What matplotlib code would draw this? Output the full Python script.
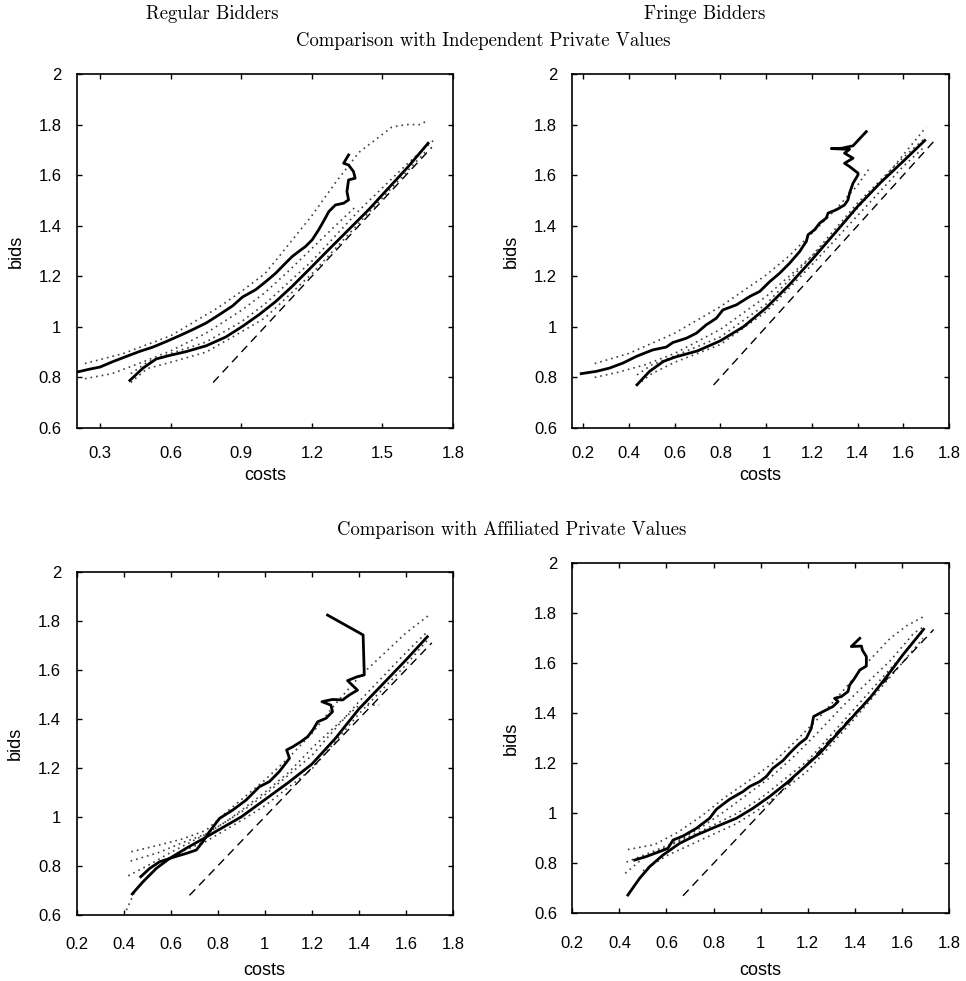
import matplotlib
matplotlib.use("Agg")
import matplotlib.pyplot as plt
import numpy as np

# ---------------- data ----------------
# Panel 1: Regular bidders, IPV comparison
p1_obs_x = [0.200,0.256,0.299,0.355,0.411,0.468,0.524,0.581,0.637,0.693,0.750,0.806,0.863,0.905,0.961,1.004,1.046,1.088,1.116,1.144,1.173,1.201,1.229,1.257,1.272,1.300,1.335,1.356,1.349,1.356,1.384,1.377,1.356,1.335,1.356]
p1_obs_y = [0.821,0.833,0.841,0.863,0.883,0.903,0.920,0.942,0.965,0.989,1.015,1.048,1.083,1.118,1.147,1.179,1.212,1.252,1.278,1.298,1.318,1.344,1.384,1.430,1.456,1.482,1.489,1.502,1.535,1.581,1.588,1.614,1.640,1.647,1.680]
p1_obs_hi_x = [0.235,0.40,0.60,0.80,0.90,1.00,1.06,1.20,1.30,1.40,1.54,1.60,1.66,1.69]
p1_obs_hi_y = [0.855,0.895,0.965,1.075,1.14,1.21,1.278,1.44,1.57,1.69,1.79,1.80,1.80,1.815]
p1_obs_lo_x = [0.235,0.35,0.45,0.60,0.75,0.90,1.00,1.10,1.20,1.30,1.38]
p1_obs_lo_y = [0.795,0.815,0.85,0.905,0.975,1.065,1.135,1.22,1.31,1.40,1.47]
p1_th_x = [0.426,0.482,0.538,0.595,0.665,0.750,0.834,0.905,0.975,1.046,1.116,1.187,1.271,1.356,1.441,1.525,1.610,1.694]
p1_th_y = [0.788,0.837,0.873,0.887,0.902,0.925,0.960,1.002,1.048,1.100,1.160,1.226,1.305,1.384,1.463,1.548,1.634,1.726]
p1_th_hi_x = [0.43,0.50,0.60,0.75,0.90,1.00,1.20,1.40,1.60,1.72]
p1_th_hi_y = [0.815,0.86,0.895,0.94,1.02,1.09,1.26,1.46,1.64,1.74]
p1_th_lo_x = [0.43,0.50,0.60,0.75,0.90,1.00,1.20,1.40,1.60,1.69]
p1_th_lo_y = [0.78,0.835,0.86,0.90,0.98,1.035,1.21,1.41,1.61,1.70]
p1_diag = [0.78, 1.71]

# Panel 2: Fringe bidders, IPV comparison
p2_obs_x = [0.191,0.257,0.315,0.374,0.432,0.476,0.505,0.563,0.592,0.651,0.695,0.738,0.782,0.811,0.870,0.928,0.972,1.016,1.059,1.103,1.147,1.161,1.176,1.183,1.212,1.234,1.263,1.271,1.307,1.343,1.358,1.365,1.380,1.402,1.402,1.365,1.343,1.380,1.343,1.365,1.285,1.329,1.380,1.438]
p2_obs_y = [0.815,0.824,0.837,0.857,0.883,0.899,0.909,0.920,0.938,0.955,0.975,1.008,1.034,1.067,1.087,1.120,1.140,1.179,1.212,1.252,1.298,1.318,1.338,1.364,1.384,1.410,1.430,1.450,1.463,1.482,1.502,1.529,1.568,1.601,1.608,1.634,1.647,1.667,1.687,1.702,1.705,1.706,1.716,1.772]
p2_obs_hi_x = [0.25,0.40,0.60,0.80,1.00,1.10,1.20,1.30,1.40,1.45]
p2_obs_hi_y = [0.855,0.895,0.975,1.08,1.205,1.28,1.37,1.46,1.56,1.625]
p2_obs_lo_x = [0.25,0.35,0.47,0.60,0.80,1.00,1.20,1.30,1.40,1.50,1.60,1.70]
p2_obs_lo_y = [0.80,0.82,0.85,0.895,0.99,1.12,1.28,1.37,1.47,1.57,1.68,1.79]
p2_th_x = [0.435,0.49,0.55,0.60,0.70,0.80,0.90,1.00,1.10,1.20,1.30,1.40,1.50,1.60,1.694]
p2_th_y = [0.771,0.824,0.863,0.88,0.905,0.945,1.00,1.075,1.165,1.265,1.37,1.476,1.57,1.655,1.737]
p2_th_hi_x = [0.435,0.50,0.60,0.80,1.00,1.20,1.40,1.60,1.70]
p2_th_hi_y = [0.81,0.85,0.885,0.96,1.09,1.28,1.49,1.67,1.75]
p2_th_lo_x = [0.435,0.50,0.60,0.80,1.00,1.20,1.40,1.60,1.69]
p2_th_lo_y = [0.77,0.815,0.86,0.93,1.06,1.245,1.44,1.635,1.71]
p2_diag = [0.77, 1.735]

# Panel 3: Regular bidders, APV comparison
p3_obs_x = [0.473,0.511,0.553,0.610,0.666,0.709,0.737,0.765,0.808,0.864,0.921,0.977,1.020,1.062,1.105,1.093,1.119,1.154,1.182,1.204,1.225,1.260,1.288,1.281,1.243,1.288,1.331,1.359,1.394,1.352,1.394,1.423,1.418,1.267]
p3_obs_y = [0.756,0.790,0.817,0.835,0.851,0.865,0.899,0.940,0.994,1.028,1.069,1.123,1.144,1.185,1.239,1.273,1.286,1.307,1.327,1.354,1.388,1.402,1.429,1.456,1.470,1.479,1.477,1.497,1.517,1.556,1.572,1.579,1.742,1.823]
p3_obs_hi_x = [0.433,0.55,0.65,0.75,0.85,1.00,1.10,1.20,1.30,1.40,1.50,1.60,1.698]
p3_obs_hi_y = [0.858,0.885,0.91,0.945,1.03,1.15,1.24,1.34,1.46,1.57,1.66,1.75,1.823]
p3_obs_lo_x = [0.43,0.55,0.65,0.75,0.85,1.00,1.10,1.20,1.30,1.40,1.486]
p3_obs_lo_y = [0.82,0.855,0.895,0.93,0.99,1.10,1.18,1.28,1.37,1.455,1.456]
p3_th_x = [0.437,0.483,0.539,0.596,0.666,0.737,0.80,0.90,1.00,1.10,1.20,1.30,1.40,1.50,1.60,1.691]
p3_th_y = [0.686,0.736,0.790,0.831,0.872,0.91,0.945,1.00,1.07,1.14,1.215,1.32,1.44,1.54,1.64,1.735]
p3_th_hi_x = [0.42,0.50,0.60,0.75,0.90,1.00,1.20,1.40,1.60,1.691]
p3_th_hi_y = [0.76,0.80,0.855,0.93,1.02,1.09,1.25,1.47,1.67,1.755]
p3_th_lo_x = [0.412,0.45,0.55,0.65,0.75,0.90,1.00,1.20,1.40,1.60,1.69]
p3_th_lo_y = [0.62,0.70,0.80,0.86,0.90,0.985,1.045,1.195,1.42,1.62,1.72]
p3_diag = [0.68, 1.71]

# Panel 4: Fringe bidders, APV comparison
p4_obs_x = [0.465,0.514,0.571,0.606,0.628,0.670,0.727,0.783,0.812,0.868,0.925,0.953,0.996,1.024,1.052,1.095,1.123,1.144,1.166,1.194,1.215,1.225,1.265,1.307,1.329,1.314,1.343,1.371,1.378,1.399,1.421,1.449,1.449,1.432,1.428,1.385,1.421]
p4_obs_y = [0.813,0.827,0.847,0.860,0.893,0.909,0.940,0.980,1.016,1.056,1.087,1.107,1.127,1.147,1.180,1.211,1.240,1.260,1.280,1.300,1.340,1.387,1.407,1.427,1.447,1.460,1.467,1.487,1.513,1.540,1.573,1.589,1.627,1.653,1.669,1.667,1.700]
p4_obs_hi_x = [0.436,0.55,0.65,0.75,0.85,0.95,1.05,1.15,1.25,1.35,1.45,1.55,1.62,1.692]
p4_obs_hi_y = [0.855,0.875,0.925,0.99,1.065,1.13,1.20,1.29,1.385,1.49,1.60,1.70,1.75,1.787]
p4_obs_lo_x = [0.43,0.55,0.65,0.75,0.85,0.95,1.05,1.15,1.25,1.35,1.45,1.55,1.65,1.69]
p4_obs_lo_y = [0.805,0.85,0.89,0.945,1.01,1.08,1.15,1.235,1.33,1.43,1.52,1.61,1.72,1.745]
p4_th_x = [0.436,0.486,0.529,0.585,0.656,0.727,0.812,0.897,0.967,1.038,1.109,1.180,1.251,1.321,1.392,1.463,1.534,1.605,1.692]
p4_th_y = [0.673,0.740,0.787,0.833,0.880,0.913,0.947,0.980,1.020,1.067,1.120,1.180,1.240,1.313,1.387,1.460,1.545,1.635,1.736]
p4_th_hi_x = [0.425,0.50,0.60,0.75,0.90,1.00,1.20,1.40,1.60,1.692]
p4_th_hi_y = [0.76,0.82,0.865,0.93,1.00,1.06,1.21,1.42,1.63,1.73]
p4_th_lo_x = [0.50,0.60,0.75,0.90,1.00,1.20,1.40,1.60,1.69]
p4_th_lo_y = [0.77,0.83,0.895,0.96,1.02,1.17,1.38,1.60,1.70]
p4_diag = [0.67, 1.735]

yticks = [0.6, 0.8, 1.0, 1.2, 1.4, 1.6, 1.8, 2.0]
ytick_labels = ["0.6", "0.8", "1", "1.2", "1.4", "1.6", "1.8", "2"]
xticks_a = [0.3, 0.6, 0.9, 1.2, 1.5, 1.8]
xtick_labels_a = ["0.3", "0.6", "0.9", "1.2", "1.5", "1.8"]
xticks_b = [0.2, 0.4, 0.6, 0.8, 1.0, 1.2, 1.4, 1.6, 1.8]
xtick_labels_b = ["0.2", "0.4", "0.6", "0.8", "1", "1.2", "1.4", "1.6", "1.8"]

col_titles = ["Regular Bidders", "Fringe Bidders"]
row_titles = ["Comparison with Independent Private Values",
              "Comparison with Affiliated Private Values"]

# ---------------- figure ----------------
W, H = 966, 981
fig = plt.figure(figsize=(W / 100, H / 100), dpi=100)
SANS = ["Liberation Sans", "DejaVu Sans"]
SERIF = ["cmr10", "DejaVu Serif"]

def box(l, r, t, b):
    return [l / W, 1 - b / H, (r - l) / W, (b - t) / H]

panels = [
    dict(pos=box(76.7, 453, 74, 428), xlim=(0.2, 1.8), xt=xticks_a, xl=xtick_labels_a,
         obs=(p1_obs_x, p1_obs_y), ohi=(p1_obs_hi_x, p1_obs_hi_y), olo=(p1_obs_lo_x, p1_obs_lo_y),
         th=(p1_th_x, p1_th_y), thi=(p1_th_hi_x, p1_th_hi_y), tlo=(p1_th_lo_x, p1_th_lo_y),
         diag=p1_diag, pad=13, lpad=4),
    dict(pos=box(572.3, 949, 74, 428), xlim=(0.152, 1.8), xt=xticks_b, xl=xtick_labels_b,
         obs=(p2_obs_x, p2_obs_y), ohi=(p2_obs_hi_x, p2_obs_hi_y), olo=(p2_obs_lo_x, p2_obs_lo_y),
         th=(p2_th_x, p2_th_y), thi=(p2_th_hi_x, p2_th_hi_y), tlo=(p2_th_lo_x, p2_th_lo_y),
         diag=p2_diag, pad=13, lpad=4),
    dict(pos=box(76.5, 453, 571.7, 915), xlim=(0.2, 1.8), xt=xticks_b, xl=xtick_labels_b,
         obs=(p3_obs_x, p3_obs_y), ohi=(p3_obs_hi_x, p3_obs_hi_y), olo=(p3_obs_lo_x, p3_obs_lo_y),
         th=(p3_th_x, p3_th_y), thi=(p3_th_hi_x, p3_th_hi_y), tlo=(p3_th_lo_x, p3_th_lo_y),
         diag=p3_diag, pad=16, lpad=7),
    dict(pos=box(572.3, 949, 563.3, 913.3), xlim=(0.2, 1.8), xt=xticks_b, xl=xtick_labels_b,
         obs=(p4_obs_x, p4_obs_y), ohi=(p4_obs_hi_x, p4_obs_hi_y), olo=(p4_obs_lo_x, p4_obs_lo_y),
         th=(p4_th_x, p4_th_y), thi=(p4_th_hi_x, p4_th_hi_y), tlo=(p4_th_lo_x, p4_th_lo_y),
         diag=p4_diag, pad=16, lpad=8),
]

dot_kw = dict(color="0.25", lw=1.2, dashes=(1.0, 2.4))
for p in panels:
    ax = fig.add_axes(p["pos"])
    for key in ("ohi", "olo", "thi", "tlo"):
        ax.plot(*p[key], **dot_kw)
    ax.plot(p["diag"], p["diag"], color="black", lw=1.0, dashes=(6, 4))
    ax.plot(*p["th"], color="black", lw=2.0, solid_joinstyle="round")
    ax.plot(*p["obs"], color="black", lw=2.0, solid_joinstyle="round")
    ax.set_xlim(*p["xlim"])
    ax.set_ylim(0.6, 2.0)
    ax.set_xticks(p["xt"])
    ax.set_xticklabels(p["xl"], fontfamily=SANS, fontsize=12)
    ax.set_yticks(yticks)
    ax.set_yticklabels(ytick_labels, fontfamily=SANS, fontsize=12)
    ax.tick_params(direction="in", length=3.5, width=1.0, top=True, right=True)
    ax.tick_params(axis="x", pad=p["pad"])
    ax.tick_params(axis="y", pad=11)
    ax.set_xlabel("costs", fontfamily=SANS, fontsize=13, labelpad=p["lpad"])
    ax.set_ylabel("bids", fontfamily=SANS, fontsize=13, labelpad=10)
    for s in ax.spines.values():
        s.set_linewidth(1.2)

fig.text(212 / W, 1 - 14 / H, col_titles[0], ha="center", va="center", fontfamily=SERIF, fontsize=13.5)
fig.text(705 / W, 1 - 14 / H, col_titles[1], ha="center", va="center", fontfamily=SERIF, fontsize=13.5)
fig.text(483 / W, 1 - 41 / H, row_titles[0], ha="center", va="center", fontfamily=SERIF, fontsize=13.5)
fig.text(512 / W, 1 - 530 / H, row_titles[1], ha="center", va="center", fontfamily=SERIF, fontsize=13.5)

fig.savefig("out.png", dpi=100)
